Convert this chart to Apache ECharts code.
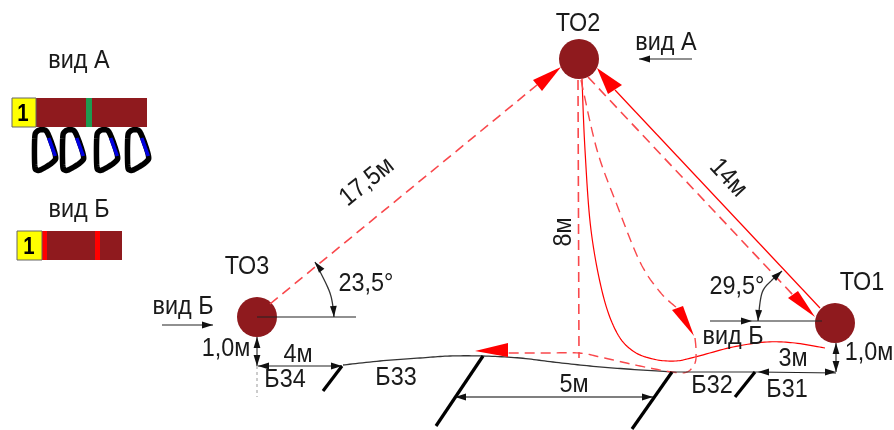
<!DOCTYPE html>
<html><head><meta charset="utf-8">
<style>html,body{margin:0;padding:0;background:#fff}#c{width:894px;height:430px}</style>
<script src="https://cdn.jsdelivr.net/npm/echarts@6/dist/echarts.min.js"></script></head>
<body><div id="c"></div>
<script>
// Diagram geometry, in the units of the two hidden value axes
const nodes = [[835,323],[579,59],[257,317]];

const rope = [[343,365],[380,361],[420,358],[450,356],[483,356],[520,358],[553,362],[590,366],[627,369],[672,372]];
const ropeTail = [[672,372],[758,372]];
const solidRedCurve = [[582,79],[585,150],[591,230],[603,295],[617,333],[633,351],[653,359],[675,361],[695,357],[733,347],[767,342],[795,343],[825,348]];
const dashedCurveDown = [[581,80],[597,150],[617,205],[640,262],[660,292],[677,308]];
const dashedCurveLoop = [[695,338],[696,350],[695,363],[687,372],[672,372],[640,366],[600,357],[579,353],[545,353],[508,353]];
const arcLeft = [[334,317],[330,293],[315,262]];
const arcRight = [[758,321],[762,293],[772,280],[782,271]];

const solidRedLines = [[[615,90],[820,308]]];
const dashedRedLines = [[[270,304],[537,85]],[[588,77],[793,295]],[[578,80],[579,358]]];
const blackLines = [
  [[257,317],[356,317]],[[162,325],[213,325]],[[710,321],[822,321]],[[692,59],[639,59]],
  [[258,366],[342,366]],[[257,337],[257,366]],[[836,343],[836,372]],
  [[758,372],[836,373]]
];
const greyLines = [[[455,397],[653,397]]];
const greyDashed = [[[257,366],[257,397]]];
const bolts = [[[342,366],[323,391]],[[483,356],[436,426]],[[672,372],[632,429]],[[755,372],[735,397]]];

const redArrows = [
  [[561,67],[533,80],[542,91]],
  [[597,68],[608,94],[622,85]],
  [[815,317],[788,298],[798,291]],
  [[694,336],[672,310],[683,306]],
  [[475,351],[508,343],[508,357]]
];
// tip x, tip y, point on the shaft x, point on the shaft y
const blackArrows = [
  [213,325,162,325],[752,321,710,321],[639,59,692,59],
  [455,397,653,397],[653,397,455,397],
  [258,366,342,366],[342,366,258,366],
  [257,337,257,366],[257,366,257,337],
  [836,343,836,372],[836,372,836,343],
  [758,372,836,372],[836,372,758,372],
  [334,317,333,300],[315,262,325,275],
  [758,321,759,305],[782,271,772,280]
];

const legendBars = [
  {box:[12,98,36,127], bar:[36,98,147,127], strips:[[86,92,'#1e9a50']]},
  {box:[17,231,42,260], bar:[42,231,122,260], strips:[[42,47,'#ff0000'],[95,100,'#ff0000']]}
];
const carabinerShape = [[34.7,138.3],[36.7,131.7],[42.3,129.7],[47.7,133.3],[55.3,155],[53.3,161.7],[41.7,169.3],[36.7,170],[34.7,165]];
const carabinerShift = [0,28,62,93];
const carabinerGate = [[48.7,138],[55.3,156]];

// text, x, y, rotation in degrees
const labels = [
  ['вид А',79,61,0],['вид Б',79,210,0],
  ['ТО2',578,24,0],['вид А',666,43,0],
  ['ТО3',247,267,0],['вид Б',183,307,0],['1,0м',226,349,0],['4м',298,355,0],['Б34',285,380,0],['Б33',396,378,0],
  ['23,5°',366,284,0],['17,5м',367,182,39],['8м',564,232,90],['14м',728,178,-47],
  ['5м',574,385,0],['Б32',712,386,0],['Б31',787,390,0],['3м',793,359,0],['1,0м',869,353,0],
  ['ТО1',862,283,0],['29,5°',737,287,0],['вид Б',733,337,0]
];
const boxLabels = [['1',23,114],['1',29,247]];

const RED = '#ff0000', DARK = '#8f1a1e', DASH = '#f9484c';
const series = [];
const poly = (data, color, width, type, z) => series.push({
  type:'line', data, symbol:'none', silent:true, z:z||2, clip:false,
  lineStyle:{color, width, type:type||'solid', cap:'butt'}
});
const custom = (data, renderItem, z) => series.push({
  type:'custom', data:data.map((_,i)=>[i]), encode:{x:0,y:0}, renderItem, silent:true, z:z||3, clip:false
});
const P = (api,p) => api.coord(p);

// Draws a smooth path through the given pixel points
function spline(pts, closed){
  const n = pts.length, out = [];
  const g = i => closed ? pts[(i+n)%n] : pts[Math.max(0,Math.min(n-1,i))];
  const segs = closed ? n : n-1;
  for (let i=0;i<segs;i++){
    const a=g(i-1),b=g(i),c=g(i+1),d=g(i+2);
    for (let k=0;k<12;k++){
      const t=k/12,t2=t*t,t3=t2*t;
      out.push([0,1].map(j=>0.5*(2*b[j]+(c[j]-a[j])*t+(2*a[j]-5*b[j]+4*c[j]-d[j])*t2+(3*b[j]-a[j]-3*c[j]+d[j])*t3)));
    }
  }
  out.push(closed?out[0]:pts[n-1]);
  return out;
}
const curve = (pts, color, width, dash, z) => custom([pts],(p,api)=>({
  type:'polyline', shape:{points:spline(pts.map(q=>P(api,q)))},
  style:{fill:'none',stroke:color,lineWidth:width,lineDash:dash||null,lineCap:'butt'}
}), z||2);

// legend bars
legendBars.forEach(b => {
  const rect = (r,fill,stroke) => ({type:'polygon',shape:{points:[[r[0],r[1]],[r[2],r[1]],[r[2],r[3]],[r[0],r[3]]]},style:{fill,stroke:stroke||null,lineWidth:1}});
  custom([b], (p,api) => {
    const toPx = e => { e.shape.points = e.shape.points.map(q=>P(api,q)); return e; };
    return {type:'group',children:[
      toPx(rect(b.bar,DARK)),
      ...b.strips.map(s=>toPx(rect([s[0],b.bar[1],s[1],b.bar[3]],s[2]))),
      toPx(rect(b.box,'#ffff00','#666'))
    ]};
  },4);
});
// carabiners
custom(carabinerShift,(p,api)=>{
  const dx = carabinerShift[p.dataIndex];
  const s = P(api,[carabinerGate[0][0]+dx,carabinerGate[0][1]]), e = P(api,[carabinerGate[1][0]+dx,carabinerGate[1][1]]);
  return {type:'group',children:[
    {type:'polyline',shape:{points:spline(carabinerShape.map(q=>P(api,[q[0]+dx,q[1]])),true)},style:{fill:'none',stroke:'#000',lineWidth:5.5,lineJoin:'round'}},
    {type:'line',shape:{x1:s[0],y1:s[1],x2:e[0],y2:e[1]},style:{stroke:'#0000e0',lineWidth:3.6,lineCap:'butt'}}
  ]};
},4);

// lines
curve(rope,'#333',1.3);
poly(ropeTail,'#333',1.2);
solidRedLines.forEach(l=>poly(l,RED,1.2));
dashedRedLines.forEach(l=>poly(l,DASH,1.6,[10,6]));
curve(solidRedCurve,RED,1.2);
curve(dashedCurveDown,DASH,1.4,[10,6]);
curve(dashedCurveLoop,DASH,1.4,[10,6]);
blackLines.forEach(l=>poly(l,'#222',1.1));
greyLines.forEach(l=>poly(l,'#555',1.6));
greyDashed.forEach(l=>poly(l,'#999',1,[3,3]));
bolts.forEach(l=>poly(l,'#000',3.2));
curve(arcLeft,'#333',1.3);
curve(arcRight,'#333',1.3);

// nodes
series.push({type:'scatter',data:nodes,symbol:'circle',symbolSize:40,silent:true,z:1,clip:false,itemStyle:{color:DARK,opacity:1}});
// arrowheads
custom(redArrows,(p,api)=>({type:'polygon',shape:{points:redArrows[p.dataIndex].map(q=>P(api,q))},style:{fill:RED}}),5);
custom(blackArrows,(p,api)=>{
  const a = blackArrows[p.dataIndex], t = P(api,[a[0],a[1]]), f = P(api,[a[2],a[3]]);
  const len = Math.hypot(f[0]-t[0],f[1]-t[1]), ux=(f[0]-t[0])/len, uy=(f[1]-t[1])/len, L=11, W=3.4;
  return {type:'polygon',shape:{points:[t,[t[0]+ux*L-uy*W,t[1]+uy*L+ux*W],[t[0]+ux*L+uy*W,t[1]+uy*L-ux*W]]},style:{fill:'#111'}};
},5);
// text
custom(labels,(p,api)=>{
  const l = labels[p.dataIndex], c = P(api,[l[1],l[2]]);
  return {type:'text',x:c[0],y:c[1],rotation:l[3]*Math.PI/180,scaleX:0.9,scaleY:1,
    style:{text:l[0],fill:'#1a1a1a',font:'26px "Liberation Sans"',textAlign:'center',textVerticalAlign:'middle'}};
},6);
custom(boxLabels,(p,api)=>{
  const l = boxLabels[p.dataIndex], c = P(api,[l[1],l[2]]);
  return {type:'text',x:c[0],y:c[1],scaleX:0.85,style:{text:l[0],fill:'#000',font:'bold 24px "Liberation Sans"',textAlign:'center',textVerticalAlign:'middle'}};
},6);

const chart = echarts.init(document.getElementById('c'),null,{renderer:'canvas'});
chart.setOption({
  animation:false, backgroundColor:'#fff',
  grid:{left:0,right:0,top:0,bottom:0},
  xAxis:{type:'value',min:0,max:894,show:false},
  yAxis:{type:'value',min:0,max:430,inverse:true,show:false},
  series
});
</script></body></html>
